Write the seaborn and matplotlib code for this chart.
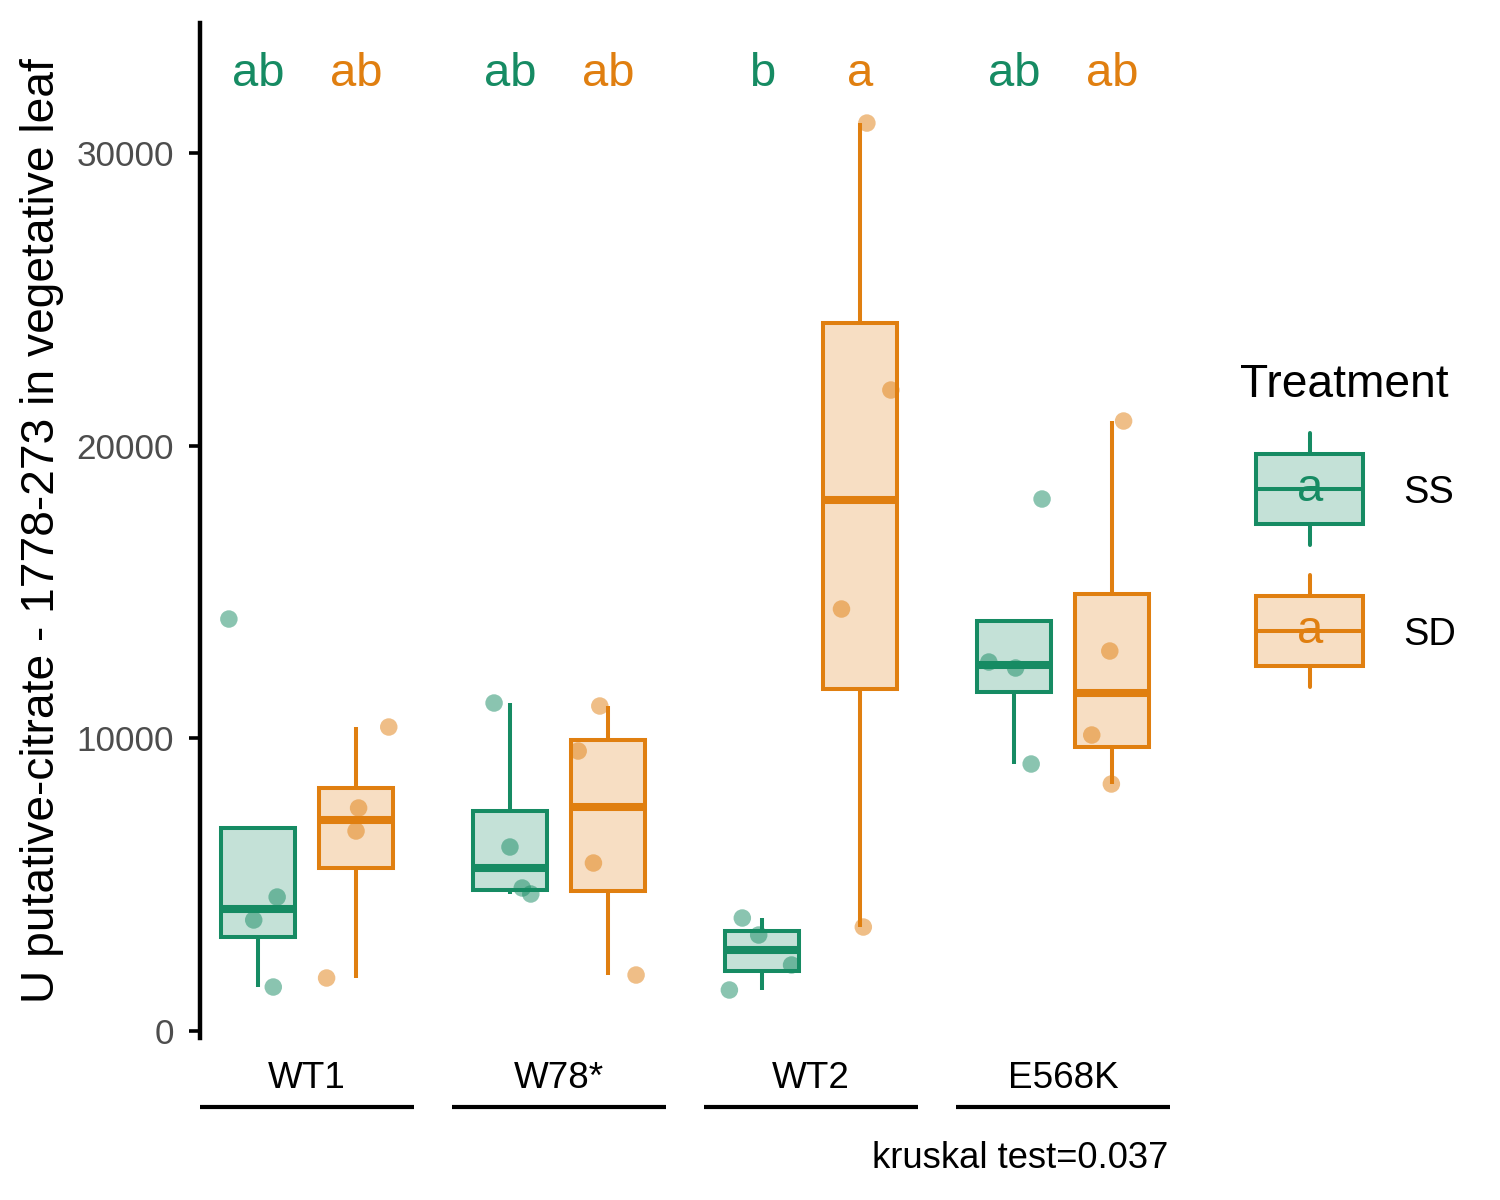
import numpy as np
import pandas as pd
import matplotlib
matplotlib.use("Agg")
import matplotlib.pyplot as plt
import seaborn as sns
from matplotlib.legend_handler import HandlerBase
from matplotlib.patches import Rectangle
from matplotlib.lines import Line2D
from matplotlib.text import Text
from matplotlib.colors import to_rgba

# ---------------- data ----------------
genotypes = ["WT1", "W78*", "WT2", "E568K"]
treatments = ["SS", "SD"]

wt1_ss = [14077, 4578, 3793, 1503]
wt1_sd = [10387, 7620, 6834, 1811]
w78_ss = [11207, 6287, 4886, 4681]
w78_sd = [11105, 9567, 5740, 1913]
wt2_ss = [3861, 3280, 2255, 1401]
wt2_sd = [31024, 21902, 14419, 3553]
e568k_ss = [18178, 12608, 12403, 9123]
e568k_sd = [20843, 12984, 10114, 8440]

letters_ss = ["ab", "ab", "b", "ab"]
letters_sd = ["ab", "ab", "a", "ab"]
legend_letters = ["a", "a"]
letter_y = 32700
y_ticks = [0, 10000, 20000, 30000]
y_label = "U putative-citrate - 1778-273 in vegetative leaf"
legend_title = "Treatment"
caption = "kruskal test=0.037"

colors = {"SS": "#168B63", "SD": "#E07F10"}

series = {
    ("WT1", "SS"): wt1_ss, ("WT1", "SD"): wt1_sd,
    ("W78*", "SS"): w78_ss, ("W78*", "SD"): w78_sd,
    ("WT2", "SS"): wt2_ss, ("WT2", "SD"): wt2_sd,
    ("E568K", "SS"): e568k_ss, ("E568K", "SD"): e568k_sd,
}
rows = []
for (g, t), vals in series.items():
    for v in vals:
        rows.append({"Genotype": g, "Treatment": t, "Value": v})
df = pd.DataFrame(rows)
letters = {"SS": letters_ss, "SD": letters_sd}

# ---------------- style ----------------
sns.set_theme(style="ticks")
plt.rcParams["font.family"] = ["Liberation Sans", "DejaVu Sans"]
plt.rcParams["text.color"] = "black"
plt.rcParams["axes.labelcolor"] = "black"
np.random.seed(7)

LW = 1.45
fig, axes = plt.subplots(1, 4, figsize=(7.5, 6), dpi=200, sharey=True)
fig.subplots_adjust(left=0.1333, right=0.78, top=0.9808, bottom=0.135, wspace=0.1776)

box_width = 0.8
for i, (ax, g) in enumerate(zip(axes, genotypes)):
    sub = df[df["Genotype"] == g]
    for t in treatments:
        sns.boxplot(data=sub[sub["Treatment"] == t], x="Genotype", y="Value",
                    hue="Treatment", hue_order=treatments, palette=colors,
                    width=box_width, gap=0.245, dodge=True, linewidth=LW,
                    linecolor=colors[t], showcaps=False, showfliers=False,
                    whis=1.5, saturation=1, medianprops={"linewidth": 2 * LW},
                    legend=False, ax=ax)
    for p in ax.patches:
        fc = p.get_facecolor()
        p.set_edgecolor(fc[:3])
        p.set_facecolor((fc[0], fc[1], fc[2], 0.25))
    sns.stripplot(data=sub, x="Genotype", y="Value", hue="Treatment",
                  hue_order=treatments, palette=colors, dodge=True, jitter=0.28,
                  size=6.3, alpha=0.5, linewidth=0, legend=False, zorder=3, ax=ax)
    n = len(treatments)
    for j, t in enumerate(treatments):
        off = -box_width / 2 + box_width / n * (j + 0.5)
        ax.text(off, letter_y, letters[t][i], color=colors[t], ha="center",
                va="center", fontsize=17)
    ax.set_xlim(-0.4367, 0.4367)
    ax.set_ylim(-239, 34442)
    ax.set_xlabel("")
    ax.set_ylabel("")
    for s in ["top", "right", "bottom"]:
        ax.spines[s].set_visible(False)
    ax.tick_params(axis="x", length=0, pad=8.4, labelsize=13.3, labelcolor="black")
    ax.plot([0, 1], [-0.068, -0.068], transform=ax.transAxes, color="black",
            lw=1.5, clip_on=False, solid_capstyle="butt")
    if i > 0:
        ax.spines["left"].set_visible(False)
        ax.tick_params(axis="y", left=False, labelleft=False)

ax0 = axes[0]
ax0.set_yticks(y_ticks)
ax0.set_yticklabels([str(v) for v in y_ticks])
ax0.spines["left"].set_linewidth(1.6)
ax0.spines["left"].set_color("black")
ax0.tick_params(axis="y", length=4, width=1.3, pad=5.4, labelsize=12.6,
                labelcolor="#4D4D4D", color="black")
ax0.set_ylabel(y_label, fontsize=16.6, labelpad=4.5, color="black")


class BoxKeyHandler(HandlerBase):
    def __init__(self, color, letter):
        super().__init__()
        self.color = color
        self.letter = letter

    def create_artists(self, legend, orig_handle, xdescent, ydescent, width,
                       height, fontsize, trans):
        x0 = -xdescent + 0.42 * fontsize
        bw = width - 0.42 * fontsize
        yc = 0.36 * fontsize
        span = 2.94 * fontsize
        bh = 0.625 * span
        rect = Rectangle((x0, yc - bh / 2), bw, bh,
                         facecolor=to_rgba(self.color, 0.25),
                         edgecolor=self.color, lw=LW, transform=trans)
        xc = x0 + bw / 2
        w1 = Line2D([xc, xc], [yc - span / 2, yc - bh / 2], color=self.color,
                    lw=LW, transform=trans)
        w2 = Line2D([xc, xc], [yc + bh / 2, yc + span / 2], color=self.color,
                    lw=LW, transform=trans)
        med = Line2D([x0, x0 + bw], [yc, yc], color=self.color, lw=LW,
                     transform=trans)
        txt = Text(xc, yc, self.letter, color=self.color, fontsize=17,
                   ha="center", va="center", transform=trans)
        return [rect, w1, w2, med, txt]


handles = [Rectangle((0, 0), 1, 1) for _ in treatments]
hmap = {h: BoxKeyHandler(colors[t], legend_letters[k])
        for k, (h, t) in enumerate(zip(handles, treatments))}
fig.legend(handles, treatments, handler_map=hmap, loc="upper left",
           bbox_to_anchor=(1240 / 1500, 1 - 363 / 1200), frameon=False,
           title=legend_title, title_fontsize=16.6, fontsize=13.7,
           handlelength=3.24, handleheight=4.15, labelspacing=0.79,
           handletextpad=1.05, borderpad=0, borderaxespad=0, alignment="left")

fig.text(1168 / 1500, 1 - 1158 / 1200, caption, ha="right", va="center",
         fontsize=13.1)

fig.savefig("out.png", dpi=200)
